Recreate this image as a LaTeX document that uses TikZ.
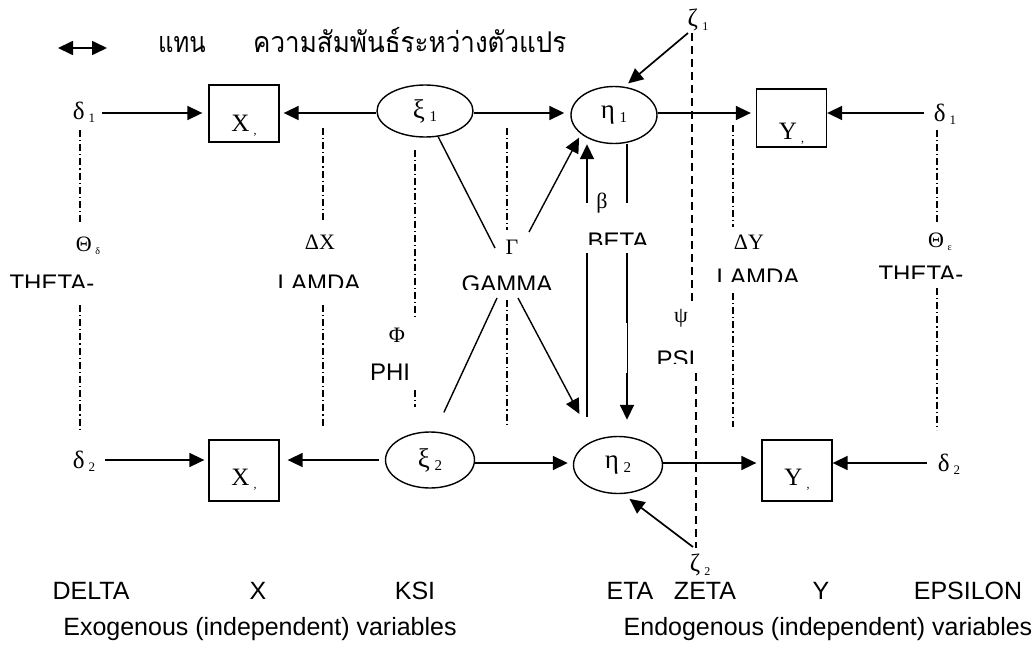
\documentclass[tikz,border=0pt]{standalone}
\usepackage{fontspec}
\setmainfont{Liberation Serif}
\newfontfamily\sansf{Liberation Sans}
\newfontfamily\thaif[Script=Thai]{Loma}
\usetikzlibrary{shapes.geometric,arrows.meta,calc}
\newcommand\gsub[2][13]{\,\raisebox{-0.3ex}{\fontsize{#1}{#1}\selectfont #2}}
\newcommand\boxtxt[2]{\raisebox{#1}[0pt][0pt]{#2}}
\newcommand\cutlabel[5]{%
  \begin{scope}
    \clip (#2-70,#3-8) rectangle (#2+70,#4);
    \node[slab] (#1) at (#2,#3+17.2) {#5};
  \end{scope}}
\begin{document}
\begin{tikzpicture}[x=1pt,y=-1pt,
  tip/.style={-{Triangle[length=15pt,width=14pt]}},
  arr/.style={line width=1.7pt,tip},
  vbox/.style={draw,line width=1.3pt,minimum width=70pt,inner sep=0pt,font=\fontsize{25}{25}\selectfont},
  ell/.style={draw,ellipse,line width=1.4pt,inner sep=0pt,font=\fontsize{27}{27}\selectfont},
  glab/.style={inner sep=0pt,font=\fontsize{22}{22}\selectfont},
  elab/.style={inner sep=0pt,font=\fontsize{25}{25}\selectfont},
  slab/.style={inner sep=0pt,anchor=base,font=\sansf\fontsize{24}{24}\selectfont},
  blab/.style={inner sep=0pt,anchor=base,font=\sansf\fontsize{25}{25}\selectfont},
  dd/.style={line width=1.2pt,dash pattern=on 7pt off 3pt on 1.2pt off 3pt},
  zd/.style={line width=1.2pt,dash pattern=on 8pt off 5pt},
  gl/.style={line width=1.4pt}]
\useasboundingbox (0,0) rectangle (1033,645);

% legend
\coordinate (la) at (58,48);
\coordinate (lb) at (107,48);
\draw[line width=1.7pt,{Triangle[length=15pt,width=14pt]}-{Triangle[length=15pt,width=14pt]}] (la) -- (lb);
\node[anchor=base west,inner sep=0pt,font=\thaif\fontsize{26}{26}\selectfont] (leg1) at (158,52) {\scalebox{0.92}[1.1]{แทน}};
\node[anchor=base west,inner sep=0pt,font=\thaif\fontsize{26}{26}\selectfont] (leg2) at (253,52) {\scalebox{1}[1.1]{ความสัมพันธ์ระหว่างตัวแปร}};

% row coordinates
\coordinate (r1) at (0,113);
\coordinate (r2) at (0,460);
\coordinate (r3) at (0,463);

% boxes
\node[vbox,minimum height=57pt] (X1) at (244,113.5) {\boxtxt{-18pt}{X\gsub[12]{,}}};
\node[vbox,minimum height=61pt] (X2) at (244,470.5) {\boxtxt{-15pt}{X\gsub[12]{,}}};
\node[vbox,minimum height=58pt] (Y1) at (791.5,118) {\boxtxt{-21pt}{Y\gsub[12]{,}}};
\node[vbox,minimum height=61pt] (Y2) at (797,470.5) {\boxtxt{-15pt}{Y\gsub[12]{,}}};

% ellipses
\node[ell,minimum width=96pt,minimum height=52pt] (x1) at (425,111) {ξ\gsub[15]{1}};
\node[ell,minimum width=89pt,minimum height=56pt] (x2) at (430,460) {ξ\gsub[15]{2}};
\node[ell,minimum width=86pt,minimum height=57pt] (e1) at (614,115) {η\gsub[15]{1}};
\node[ell,minimum width=89pt,minimum height=57pt] (e2) at (618,465) {η\gsub[15]{2}};

% error labels
\node[elab] (dL1) at (84,112) {δ\gsub{1}};
\node[elab] (dL2) at (84,461) {δ\gsub{2}};
\node[elab] (dR1) at (945,114) {δ\gsub{1}};
\node[elab] (dR2) at (949,464) {δ\gsub{2}};
\node[elab] (z1) at (698,20) {ζ\gsub[12]{1}};
\node[elab] (z2) at (700,565) {ζ\gsub[12]{2}};

% horizontal arrows
\draw[arr] (dL1.east |- r1) ++(7,0) coordinate (t1) (t1) -- ($(X1.west |- r1)+(-6,0)$);
\draw[arr] (x1.west |- r1) -- ($(X1.east |- r1)+(4,0)$);
\draw[arr] (x1.east |- r1) -- ($(e1.west |- r1)+(-6,0)$);
\draw[arr] (e1.east |- r1) -- ($(Y1.west |- r1)+(-5,0)$);
\draw[arr] (dR1.west |- r1) ++(-10,0) coordinate (t5) (t5) -- (Y1.east |- r1);
\draw[arr] (dL2.east |- r2) ++(10,0) coordinate (t6) (t6) -- ($(X2.west |- r2)+(-4,0)$);
\draw[arr] ($(x2.west |- r2)+(-6,0)$) -- ($(X2.east |- r2)+(8,0)$);
\draw[arr] (x2.east |- r3) -- ($(e2.west |- r3)+(-5,0)$);
\draw[arr] (e2.east |- r3) -- ($(Y2.west |- r3)+(-5,0)$);
\draw[arr] (dR2.west |- r3) ++(-11,0) coordinate (t10) (t10) -- (Y2.east |- r3);

% zeta arrows and dashed line
\coordinate (z1t) at (688,33);
\coordinate (z2t) at (693,547);
\draw[arr,shorten >=5pt] (z1t) -- (e1.70);
\draw[arr,shorten >=8pt] (z2t) -- (e2.-80);
\draw[zd] (692,33) -- (692,305);
\draw[zd] (696,373) -- (696,548);

% dash-dot lines
\draw[dd] (80,130) -- (80,223);  \draw[dd] (80,305) -- (80,430);
\draw[dd] (323,128) -- (323,220); \draw[dd] (323,305) -- (323,427);
\draw[dd] (415,150) -- (415,318); \draw[dd] (415,390) -- (415,407);
\draw[dd] (507,128) -- (507,230); \draw[dd] (507,300) -- (507,427);
\draw[dd] (733,125) -- (733,227); \draw[dd] (733,293) -- (733,427);
\draw[dd] (937,130) -- (937,225); \draw[dd] (937,288) -- (937,430);

% greek labels
\node[glab] (thd) at (88,246) {Θ\gsub[10]{δ}};
\node[glab] (dX) at (320,242) {ΔX};
\node[glab] (Gam) at (512,247) {Γ};
\node[glab] (bet) at (602,203) {β};
\node[glab] (psi) at (681,318) {ψ};
\node[glab] (phi) at (397,335) {Φ};
\node[glab] (dY) at (749,242) {ΔY};
\node[glab] (the) at (940,242) {Θ\gsub[10]{ε}};

% word labels (cut at the bottom)
\cutlabel{thL}{52}{274}{287}{THETA-}
\cutlabel{laL}{319}{274}{287}{LAMDA}
\cutlabel{gam}{507}{275}{289}{GAMMA}
\cutlabel{beta}{618}{232}{244}{BETA}
\cutlabel{laR}{758}{268}{281}{LAMDA}
\cutlabel{thR}{921}{265}{278}{THETA-}
\cutlabel{psiw}{676}{350}{363}{PSI}
\cutlabel{phiw}{390}{363}{380}{PHI}

% gamma paths
\coordinate (G1) at (495,248);
\coordinate (G2) at (529,232);
\coordinate (G3) at (497,298);
\coordinate (G4) at (518,298);
\draw[gl] (x1) -- (G1);
\draw[arr,line width=1.4pt,shorten >=4pt] (G2) -- (e1.-150);
\draw[gl,shorten >=21pt] (G3) -- (x2.80);
\draw[arr,line width=1.4pt,shorten >=30pt] (G4) -- (e2.135);

% beta paths
\coordinate (B1) at (587,417);
\coordinate (B2) at (587,253);
\coordinate (B3) at (587,203);
\draw[line width=1.7pt] (B1) -- (B2);
\draw[arr] (B3) -- (B3 |- e1.south);
\coordinate (D2) at (627,203);
\coordinate (D3) at (627,253);
\coordinate (D4) at (627,323);
\coordinate (D5) at (627,373);
\draw[line width=1.7pt] (D2 |- e1.south) -- (D2);
\draw[line width=1.7pt] (D3) -- (D4);
\draw[line width=0.6pt] (D4) -- (D5);
\draw[arr,shorten >=16pt] (D5) -- (D5 |- e2.north);

% bottom captions
\node[blab] (cDelta) at (91,599) {DELTA};
\node[blab] (cX) at (258,599) {X};
\node[blab] (cKsi) at (415,599) {KSI};
\node[blab] (cEta) at (630,599) {ETA};
\node[blab] (cZeta) at (705,599) {ZETA};
\node[blab] (cY) at (821,599) {Y};
\node[blab] (cEps) at (968,599) {EPSILON};
\node[blab] (cExo) at (260,635) {Exogenous (independent) variables};
\node[blab] (cEndo) at (828,635) {Endogenous (independent) variables};
\end{tikzpicture}
\end{document}
